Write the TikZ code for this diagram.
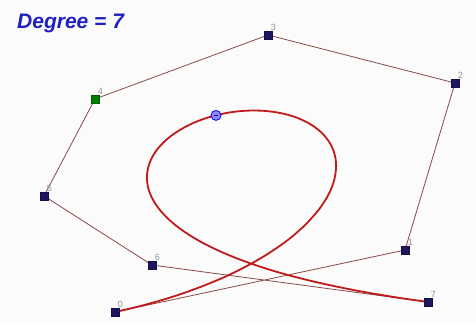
\documentclass[tikz,border=0pt]{standalone}
\usepackage{fontspec}
\setmainfont{Liberation Sans}
\begin{document}
\begin{tikzpicture}[x=1pt,y=-1pt,
  ctrl/.style={rectangle,fill=navyc,draw=navyc!70!black,minimum size=7.5pt,inner sep=0pt},
  ctrlg/.style={ctrl,fill=green!50!black,draw=green!35!black},
  lbl/.style={font=\fontsize{9}{9}\selectfont,text=gray!85,inner sep=0.5pt},
  poly/.style={draw=polyc,line width=0.8pt},
  curve/.style={draw=curvec,line width=1.8pt}]
\definecolor{navyc}{HTML}{1E1660}
\definecolor{polyc}{HTML}{8A4848}
\definecolor{curvec}{HTML}{C01A1A}
\definecolor{titlec}{HTML}{2020C0}
\fill[gray!3] (0,0) rectangle (476,324);
\useasboundingbox (0,0) rectangle (476,324);
\node[anchor=west,font=\fontsize{21}{21}\bfseries\itshape\selectfont,text=titlec,inner sep=0pt] (title) at (17,23) {Degree = 7};
\coordinate (c0) at (115,312);
\coordinate (c1) at (405,250);
\coordinate (c2) at (455,83);
\coordinate (c3) at (268,35);
\coordinate (c4) at (95,99);
\coordinate (c5) at (44,196);
\coordinate (c6) at (152,265);
\coordinate (c7) at (428,302);
\draw[poly] (c0) -- (c1) -- (c2) -- (c3) -- (c4) -- (c5) -- (c6) -- (c7);
\draw[curve,line join=round] plot[domain=0:1,samples=160,smooth] ({115*(1-\x)^7 + 2835*\x*(1-\x)^6 + 9555*\x^2*(1-\x)^5 + 9380*\x^3*(1-\x)^4 + 3325*\x^4*(1-\x)^3 + 924*\x^5*(1-\x)^2 + 1064*\x^6*(1-\x) + 428*\x^7},{312*(1-\x)^7 + 1750*\x*(1-\x)^6 + 1743*\x^2*(1-\x)^5 + 1225*\x^3*(1-\x)^4 + 3465*\x^4*(1-\x)^3 + 4116*\x^5*(1-\x)^2 + 1855*\x^6*(1-\x) + 302*\x^7});
\node[ctrl,label={[lbl]60:0}] (p0) at (c0) {};
\node[ctrl,label={[lbl]60:1}] (p1) at (c1) {};
\node[ctrl,label={[lbl]60:2}] (p2) at (c2) {};
\node[ctrl,label={[lbl]60:3}] (p3) at (c3) {};
\node[ctrlg,label={[lbl]60:4}] (p4) at (c4) {};
\node[ctrl,label={[lbl]60:5}] (p5) at (c5) {};
\node[ctrl,label={[lbl]60:6}] (p6) at (c6) {};
\node[ctrl,label={[lbl]60:7}] (p7) at (c7) {};
\node[circle,draw=blue!80!black,fill=blue!45,line width=0.8pt,minimum size=10pt,inner sep=0pt] (mid) at (216,115.4) {};
\draw[blue!70!black,line width=0.7pt] ([xshift=-2pt]mid.center) -- ([xshift=2pt]mid.center);
\end{tikzpicture}
\end{document}
